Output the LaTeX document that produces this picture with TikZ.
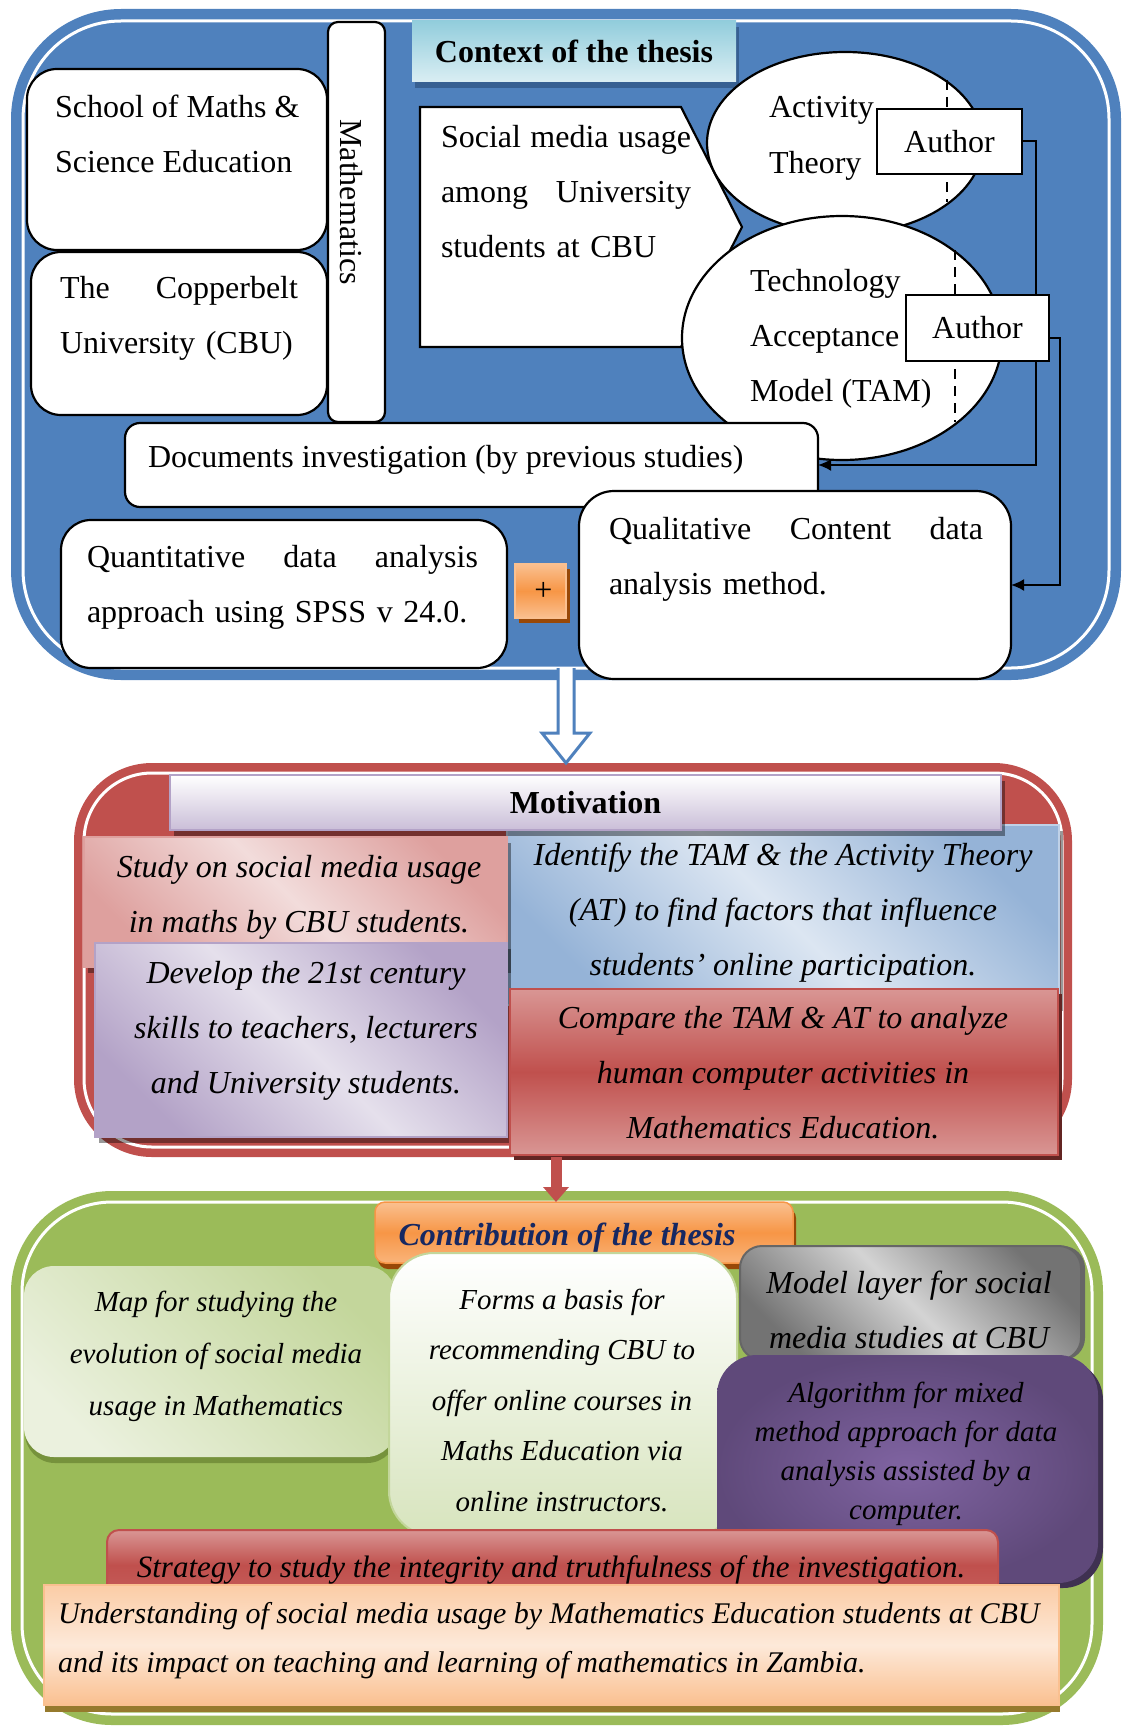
\documentclass[tikz,border=0pt]{standalone}
\usepackage{fontspec}
\setmainfont{Liberation Serif}
\usepackage{tikz}
\usetikzlibrary{shapes,arrows,arrows.meta,positioning,calc,shadows}

\definecolor{ctxblue}{RGB}{79,129,189}
\definecolor{motred}{RGB}{192,80,77}
\definecolor{congreen}{RGB}{155,187,89}
\definecolor{navy}{RGB}{22,40,98}
\definecolor{titlecyan}{RGB}{146,205,220}
\definecolor{titlelight}{RGB}{218,238,243}
\definecolor{titleshade}{RGB}{55,96,146}
\definecolor{orangedk}{RGB}{247,150,70}
\definecolor{orangelt}{RGB}{250,192,144}
\definecolor{orangepale}{RGB}{253,233,217}
\definecolor{brownsh}{RGB}{152,72,7}
\definecolor{pinkdk}{RGB}{222,160,158}
\definecolor{pinklt}{RGB}{242,220,219}
\definecolor{bluedk}{RGB}{149,179,215}
\definecolor{bluelt}{RGB}{220,230,242}
\definecolor{lilacdk}{RGB}{179,162,199}
\definecolor{lilaclt}{RGB}{229,224,236}
\definecolor{reddk}{RGB}{99,37,35}
\definecolor{redlt}{RGB}{217,150,148}
\definecolor{greendk}{RGB}{195,214,155}
\definecolor{greenlt}{RGB}{235,241,222}
\definecolor{formsgreen}{RGB}{215,228,189}
\definecolor{olive}{RGB}{118,146,60}
\definecolor{purpdk}{RGB}{95,73,122}
\definecolor{purplt}{RGB}{128,100,162}
\definecolor{purpsh}{RGB}{63,49,81}
\definecolor{undersh}{RGB}{150,122,45}

\tikzset{wh/.style 2 args={minimum width=#1, minimum height=#2},
  diag/.style 2 args={top color=#1, bottom color=#1, middle color=#2, shading angle=-45}}

\begin{document}
\begin{tikzpicture}[x=1pt, y=-1pt, >={Latex[length=13pt,width=12pt]}, line width=2pt,
  every node/.style={inner sep=0pt, outer sep=0pt}]
\tikzstyle{panel}=[anchor=north west, double=white, double distance=3pt]
\tikzstyle{wbox}=[draw=black, fill=white, anchor=north west, line width=2.2pt]
\tikzstyle{sbox}=[anchor=north west, general shadow={fill=black, opacity=.4, shadow xshift=4pt, shadow yshift=-6pt}]
\tikzstyle{txt}=[font=\fontsize{32}{55}\selectfont, anchor=base west, align=left]
\tikzstyle{itxt}=[font=\fontsize{32}{55}\selectfont\itshape, anchor=base, align=center]
\tikzstyle{stxt}=[font=\fontsize{29}{51}\selectfont\itshape, anchor=base, align=center]

\useasboundingbox (0,0) rectangle (1123,1726);

\node[panel, wh={1086pt}{647pt}, fill=ctxblue, draw=ctxblue, line width=10.5pt, rounded corners=98pt] (ctxpanel) at (23,21) {};
\node[panel, wh={978pt}{374pt}, fill=motred, draw=motred, line width=8.5pt, rounded corners=68pt] (motpanel) at (84,773) {};
\node[panel, wh={1070pt}{512pt}, fill=congreen, draw=congreen, line width=9.5pt, rounded corners=90pt] (conpanel) at (22,1202) {};

\node[anchor=north west, wh={324pt}{61pt}, top color=titlecyan, bottom color=titlelight, general shadow={fill=titleshade, shadow xshift=3pt, shadow yshift=-6pt}, font=\fontsize{32}{40}\selectfont\bfseries] (ctxtitle) at (412,21) {Context of the thesis};

\node[wbox, wh={57pt}{400pt}, rounded corners=10pt] (mathbox) at (328,22) {};
\node[txt, rotate=-90, anchor=center] (mathtxt) at (351,202) {Mathematics};
\node[wbox, wh={300pt}{181pt}, rounded corners=30pt] (school) at (27,69) {};
\node[txt] (schooltxt) at (55,172) {School of Maths \&\\Science Education};
\node[wbox, wh={296pt}{163pt}, rounded corners=30pt] (cbu) at (31,252) {};
\node[txt, text width=238pt] (cbutxt) at (60,298) {The\hfill Copperbelt\\University (CBU)};

\draw[fill=white, line width=2.2pt] (420,107) coordinate (social) -- (681,107) -- (742,227) -- (681,347) -- (420,347) -- cycle;
\node[txt, text width=250pt] (socialtxt) at (441,147) {Social\hfill media\hfill usage\\among\hfill University\\students at CBU};

\node[ellipse, draw, fill=white, line width=2.2pt, wh={276pt}{182pt}] (actheory) at (845,143) {};
\draw[line width=2.5pt, dash pattern=on 10pt off 7pt] (947,80) -- (947,202);
\node[txt] (actxt) at (769,173) {Activity\\Theory};
\node[wbox, wh={145pt}{65pt}, font=\fontsize{32}{40}\selectfont] (auth1) at (877,109) {Author};

\node[ellipse, draw, fill=white, line width=2.2pt, wh={320pt}{244pt}] (tam) at (842,338) {};
\draw[line width=2.5pt, dash pattern=on 10pt off 7pt] (955,250) -- (955,422);
\node[txt] (tamtxt) at (750,401) {Technology\\Acceptance\\Model (TAM)};

\node[wbox, wh={693pt}{84pt}, rounded corners=15pt] (docs) at (125,423) {};
\node[txt] (docstxt) at (148,467) {Documents investigation (by previous studies)};
\draw[->] (auth1.east) -- ++(14,0) |- (docs.east);

\node[wbox, wh={143pt}{66pt}, font=\fontsize{32}{40}\selectfont] (auth2) at (906,295) {Author};

\node[wbox, wh={432pt}{188pt}, rounded corners=35pt] (qual) at (579,491) {};
\node[txt, text width=374pt] (qualtxt) at (609,539) {Qualitative\hfill Content\hfill data\\analysis method.};
\draw[->] ([yshift=-10pt]auth2.east) -- ++(11,0) |- (qual.east);

\node[wbox, wh={446pt}{148pt}, rounded corners=30pt] (quant) at (61,520) {};
\node[txt, text width=391pt] (quanttxt) at (87,567) {Quantitative\hfill data\hfill analysis\\approach using SPSS v 24.0.};

\node[anchor=north west, wh={51pt}{54pt}, top color=orangelt, bottom color=orangelt, middle color=orangedk, draw=orangelt, line width=1.5pt, general shadow={fill=brownsh, shadow xshift=4pt, shadow yshift=-5pt}, font=\fontsize{32}{40}\selectfont] (plus) at (515,564) {\hspace*{6pt}+};

\draw[ctxblue, line width=3pt, fill=white] ([xshift=-8pt]ctxpanel.south) -- ++(0,65) -- ++(-16,0) -- ([yshift=10pt]ctxpanel.south |- motpanel.north) -- ++(24,-30) -- ++(-16,0) -- ([xshift=8pt]ctxpanel.south);

\node[sbox, wh={552pt}{180pt}, diag={bluedk}{bluelt}, draw=bluedk!60!white, line width=1.5pt] (identify) at (507,825) {};
\node[sbox, wh={423pt}{130pt}, diag={pinkdk}{pinklt}, draw=pinkdk, line width=1.5pt] (study) at (84,837) {};
\node[sbox, wh={412pt}{194pt}, diag={lilacdk}{lilaclt}, draw=lilacdk, line width=2pt] (develop) at (95,943) {};
\node[anchor=north west, wh={548pt}{166pt}, top color=redlt, bottom color=redlt, middle color=motred, draw=motred, line width=2.5pt, general shadow={fill=reddk, shadow xshift=4pt, shadow yshift=-5pt}] (compare) at (510,989) {};
\node[sbox, wh={831pt}{55pt}, top color=white, bottom color=lilacdk!70, draw=lilacdk, line width=2pt, font=\fontsize{32}{40}\selectfont\bfseries] (motivation) at (170,775) {Motivation};

\node[itxt] (studytxt) at (299,932) {Study on social media usage\\in maths by CBU students.};
\node[itxt] (identtxt) at (783,975) {Identify the TAM \& the Activity Theory\\(AT) to find factors that influence\\students’ online participation.};
\node[itxt] (devtxt) at (306,1093) {Develop the 21st century\\skills to teachers, lecturers\\and University students.};
\node[itxt] (comptxt) at (783,1138) {Compare the TAM \& AT to analyze\\human computer activities in\\Mathematics Education.};

\node[anchor=north west, wh={418pt}{61pt}, rounded corners=10pt, top color=orangelt, bottom color=orangelt!70!orangedk, middle color=orangedk, draw=orangedk, line width=1.5pt, general shadow={fill=brownsh, shadow xshift=3pt, shadow yshift=-6pt}] (contitle) at (375,1202) {};
\node[font=\fontsize{32}{40}\selectfont\bfseries\itshape, text=navy, anchor=base] (contxt) at (567,1245) {Contribution of the thesis};
\coordinate (redtail) at (556,1157);
\draw[motred, line width=11pt, -{Triangle[length=15pt,width=25pt]}] (redtail) -- (redtail |- contitle.north);

\node[anchor=north west, wh={372pt}{191pt}, rounded corners=30pt, top color=greendk, bottom color=greenlt, shading angle=-45, general shadow={fill=olive, shadow xshift=1pt, shadow yshift=-6pt}] (mapbox) at (24,1266) {};
\node[anchor=north west, wh={348pt}{283pt}, rounded corners=45pt, top color=white, bottom color=formsgreen, draw=greendk, line width=2pt] (forms) at (389,1253) {};
\node[anchor=north west, wh={341pt}{114pt}, rounded corners=22pt, diag={black!55}{black!17}, draw=black!60, line width=2pt, general shadow={fill=black!60, shadow xshift=4pt, shadow yshift=0pt}] (model) at (740,1246) {};
\node[anchor=north west, wh={381pt}{228pt}, rounded corners=40pt, inner color=purplt, outer color=purpdk, general shadow={fill=purpsh, shadow xshift=5pt, shadow yshift=-5pt}] (algo) at (717,1355) {};
\node[anchor=north west, wh={891pt}{70pt}, rounded corners=12pt, top color=redlt, bottom color=motred!80!redlt, middle color=motred, draw=motred, line width=2pt] (strategy) at (107,1530) {};
\node[anchor=north west, wh={1015pt}{120pt}, top color=orangelt!70!orangepale, bottom color=orangelt, middle color=orangepale, draw=orangelt, line width=1.5pt, general shadow={fill=undersh, shadow xshift=1pt, shadow yshift=-7pt}] (understand) at (44,1585) {};

\node[stxt, font=\fontsize{29}{52}\selectfont\itshape] (maptxt) at (216,1415) {Map for studying the\\evolution of social media\\usage in Mathematics};
\node[stxt, font=\fontsize{29}{50.5}\selectfont\itshape] (formstxt) at (562,1511) {Forms a basis for\\recommending CBU to\\offer online courses in\\Maths Education via\\online instructors.};
\node[itxt] (modeltxt) at (909,1348) {Model layer for social\\media studies at CBU};
\node[stxt, font=\fontsize{29}{39}\selectfont\itshape] (algotxt) at (906,1519) {Algorithm for mixed\\method approach for data\\analysis assisted by a\\computer.};
\node[itxt, font=\fontsize{31}{40}\selectfont\itshape] (strattxt) at (551,1577) {Strategy to study the integrity and truthfulness of the investigation.};
\node[txt, font=\fontsize{30}{49}\selectfont\itshape] (undertxt) at (58,1672) {Understanding of social media usage by Mathematics Education students at CBU\\and its impact on teaching and learning of mathematics in Zambia.};
\end{tikzpicture}
\end{document}
